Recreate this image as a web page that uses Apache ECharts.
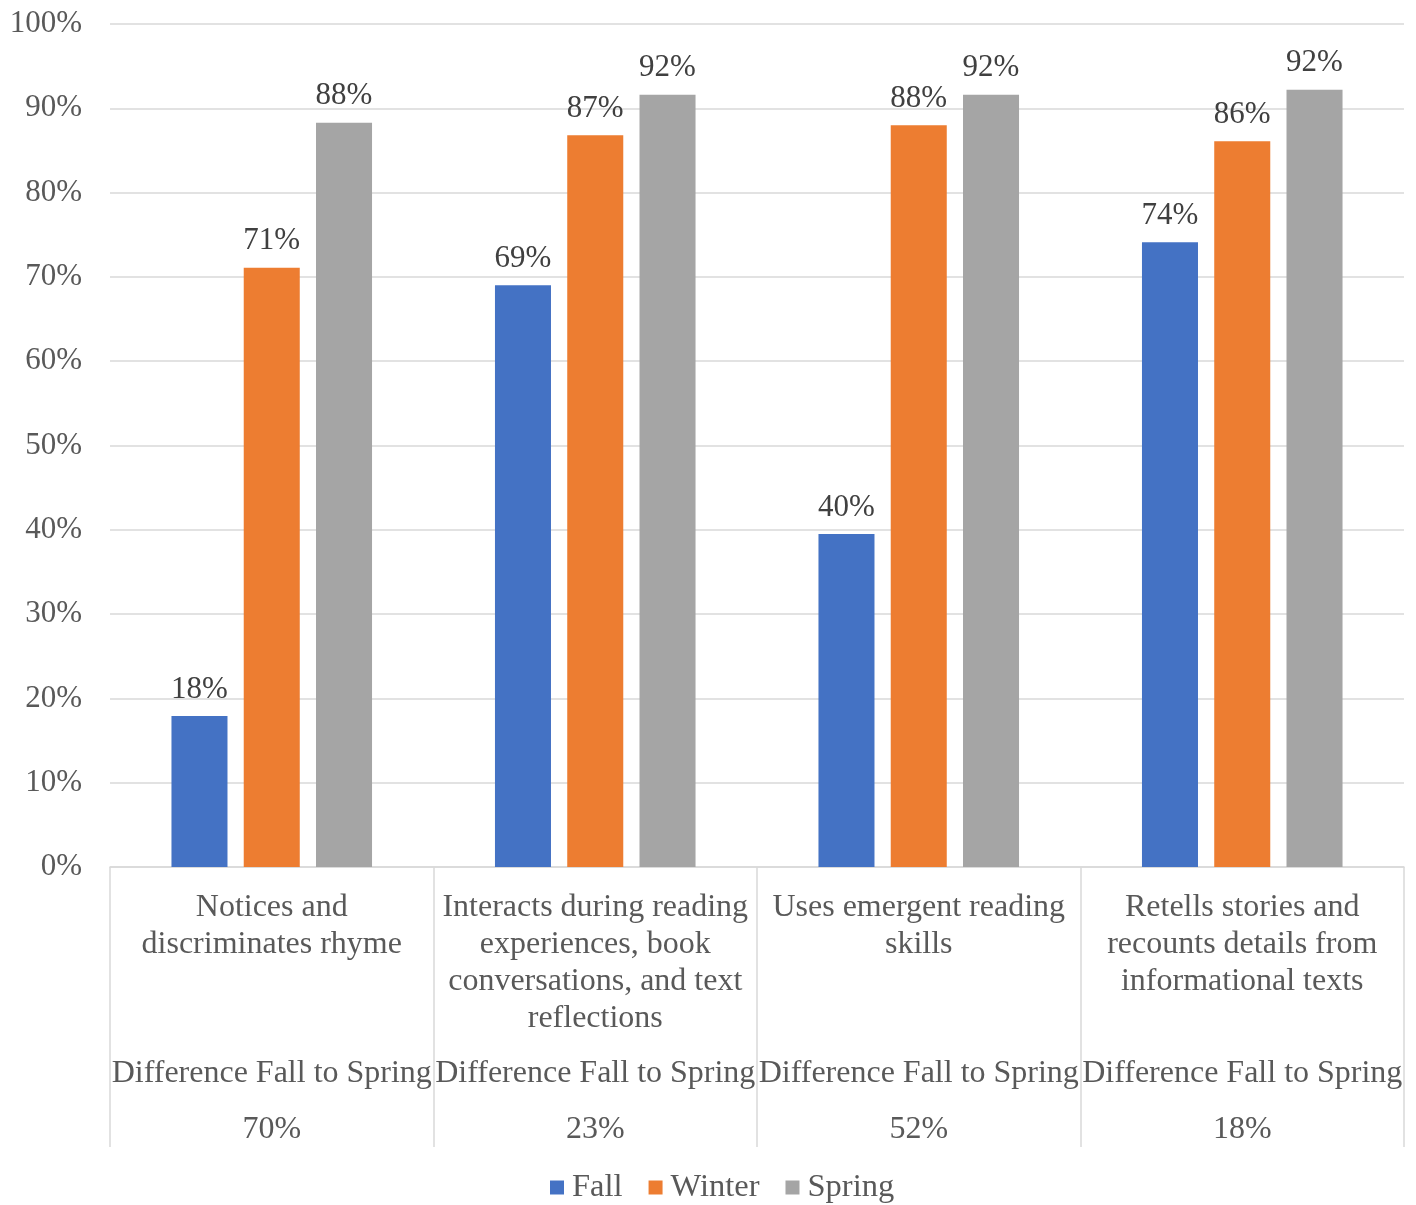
<!DOCTYPE html>
<html>
<head>
<meta charset="utf-8">
<script src="https://cdn.jsdelivr.net/npm/echarts@6/dist/echarts.min.js"></script>
<style>
  html, body { margin: 0; padding: 0; background: #fff; }
  #chart { width: 1416px; height: 1205px; }
</style>
</head>
<body>
<div id="chart"></div>
<script>
// Category names ('\n' marks where the original wraps)
const categories = [
  'Notices and\ndiscriminates rhyme',
  'Interacts during reading\nexperiences, book\nconversations, and text\nreflections',
  'Uses emergent reading\nskills',
  'Retells stories and\nrecounts details from\ninformational texts'
];
const subLabel = 'Difference Fall to Spring';
const differences = [70, 23, 52, 18];
const fallValues = [17.9, 69.0, 39.5, 74.1];
const winterValues = [71.1, 86.8, 88.0, 86.1];
const springValues = [88.3, 91.6, 91.6, 92.2];
const yTicks = { min: 0, max: 100, interval: 10 };

const FONT = '"Liberation Serif", "Times New Roman", serif';
const chart = echarts.init(document.getElementById('chart'));

function labelFmt(value, idx) {
  const lines = value.split('\n');
  while (lines.length < 4) lines.push(' ');
  const parts = lines.map(l => '{c|' + l + '}');
  parts.push('{d|' + subLabel + '}');
  parts.push('{v|' + differences[idx] + '%}');
  return parts.join('\n');
}

const barLabel = {
  show: true,
  position: 'top',
  distance: 11,
  color: '#404040',
  fontFamily: FONT,
  fontSize: 31,
  formatter: p => Math.round(p.value) + '%'
};

chart.setOption({
  animation: false,
  textStyle: { fontFamily: FONT },
  grid: { left: 110, right: 12, top: 24, bottom: 338, containLabel: false },
  legend: {
    top: 1166,
    left: 545,
    itemWidth: 14,
    itemHeight: 14,
    itemGap: 26,
    icon: 'rect',
    textStyle: { fontFamily: FONT, fontSize: 32.5, color: '#595959', padding: [0, 0, 0, 3] },
    data: ['Fall', 'Winter', 'Spring']
  },
  xAxis: {
    type: 'category',
    data: categories,
    axisLine: { show: true, lineStyle: { color: '#d9d9d9', width: 1.5 } },
    axisTick: { show: true, interval: 0, length: 280, lineStyle: { color: '#d9d9d9', width: 1.5 } },
    axisLabel: {
      interval: 0,
      margin: 22,
      verticalAlign: 'top',
      formatter: labelFmt,
      rich: {
        c: { fontFamily: FONT, fontSize: 32, color: '#595959', lineHeight: 37, align: 'center' },
        d: { fontFamily: FONT, fontSize: 32, color: '#595959', lineHeight: 74, align: 'center' },
        v: { fontFamily: FONT, fontSize: 32, color: '#595959', lineHeight: 38, align: 'center' }
      }
    }
  },
  yAxis: {
    type: 'value',
    min: yTicks.min,
    max: yTicks.max,
    interval: yTicks.interval,
    axisLine: { show: false },
    axisTick: { show: false },
    splitLine: { lineStyle: { color: '#d9d9d9', width: 1.5 } },
    axisLabel: {
      formatter: '{value}%',
      margin: 28,
      color: '#595959',
      fontFamily: FONT,
      fontSize: 31
    }
  },
  series: [
    { name: 'Fall', type: 'bar', data: fallValues, itemStyle: { color: '#4472C4' },
      barGap: '29%', barCategoryGap: '38%', label: barLabel },
    { name: 'Winter', type: 'bar', data: winterValues, itemStyle: { color: '#ED7D31' }, label: barLabel },
    { name: 'Spring', type: 'bar', data: springValues, itemStyle: { color: '#A5A5A5' }, label: barLabel }
  ]
});
</script>
</body>
</html>
